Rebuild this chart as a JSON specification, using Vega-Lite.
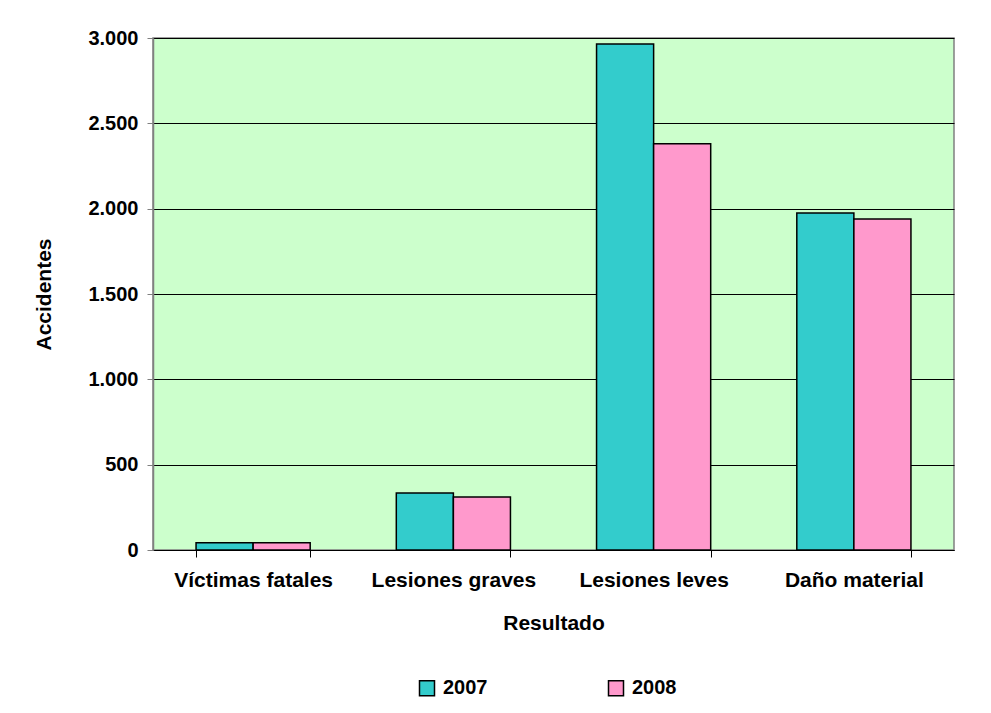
{
  "$schema": "https://vega.github.io/schema/vega-lite/v6.json",
  "autosize": "none",
  "width": 801,
  "height": 512,
  "padding": {"left": 153, "top": 38, "right": 37, "bottom": 163},
  "background": "#FFFFFF",
  "config": {
    "locale": {"number": {"decimal": ",", "thousands": ".", "grouping": [3], "currency": ["", ""]}},
    "font": "Liberation Sans",
    "view": {"fill": "#CCFFCC", "stroke": "#808080", "strokeWidth": 1.5}
  },
  "data": {
    "values": [
      {"resultado": "Víctimas fatales", "anio": "2007", "accidentes": 42},
      {"resultado": "Víctimas fatales", "anio": "2008", "accidentes": 42},
      {"resultado": "Lesiones graves", "anio": "2007", "accidentes": 334},
      {"resultado": "Lesiones graves", "anio": "2008", "accidentes": 311},
      {"resultado": "Lesiones leves", "anio": "2007", "accidentes": 2965},
      {"resultado": "Lesiones leves", "anio": "2008", "accidentes": 2380},
      {"resultado": "Daño material", "anio": "2007", "accidentes": 1974},
      {"resultado": "Daño material", "anio": "2008", "accidentes": 1940}
    ]
  },
  "mark": {"type": "bar", "stroke": "#000000", "strokeWidth": 1.5},
  "encoding": {
    "x": {
      "field": "resultado",
      "type": "nominal",
      "sort": ["Víctimas fatales", "Lesiones graves", "Lesiones leves", "Daño material"],
      "scale": {"paddingInner": 0.43, "paddingOuter": 0.215},
      "axis": {
        "title": "Resultado",
        "labelAngle": 0,
        "tickBand": "extent",
        "tickSize": 7,
        "tickColor": "#000000",
        "domainColor": "#000000",
        "labelFont": "Liberation Sans",
        "labelFontWeight": "bold",
        "labelFontSize": 21,
        "labelColor": "#000000",
        "labelPadding": 12,
        "labelLimit": 300,
        "titleFont": "Liberation Sans",
        "titleFontWeight": "bold",
        "titleFontSize": 21,
        "titleColor": "#000000",
        "titlePadding": 22
      }
    },
    "xOffset": {"field": "anio", "type": "nominal", "scale": {"paddingInner": 0, "paddingOuter": 0}},
    "y": {
      "field": "accidentes",
      "type": "quantitative",
      "scale": {"domain": [0, 3000]},
      "axis": {
        "title": "Accidentes",
        "values": [0, 500, 1000, 1500, 2000, 2500, 3000],
        "format": ",d",
        "grid": true,
        "gridColor": "#000000",
        "gridWidth": 1,
        "tickSize": 6,
        "tickColor": "#808080",
        "domainColor": "#808080",
        "domainWidth": 1.5,
        "labelFont": "Liberation Sans",
        "labelFontWeight": "bold",
        "labelFontSize": 20,
        "labelColor": "#000000",
        "labelPadding": 9,
        "titleFont": "Liberation Sans",
        "titleFontWeight": "bold",
        "titleFontSize": 21,
        "titleColor": "#000000",
        "titlePadding": 33
      }
    },
    "color": {
      "field": "anio",
      "type": "nominal",
      "scale": {"domain": ["2007", "2008"], "range": ["#33CCCC", "#FF99CC"]},
      "legend": {
        "title": null,
        "orient": "none",
        "legendX": 264,
        "legendY": 640,
        "direction": "horizontal",
        "symbolType": "square",
        "symbolSize": 225,
        "symbolStrokeColor": "#000000",
        "symbolStrokeWidth": 1.5,
        "symbolOpacity": 1,
        "labelFont": "Liberation Sans",
        "labelFontWeight": "bold",
        "labelFontSize": 20,
        "labelColor": "#000000",
        "labelOffset": 6,
        "columnPadding": 117
      }
    }
  }
}
